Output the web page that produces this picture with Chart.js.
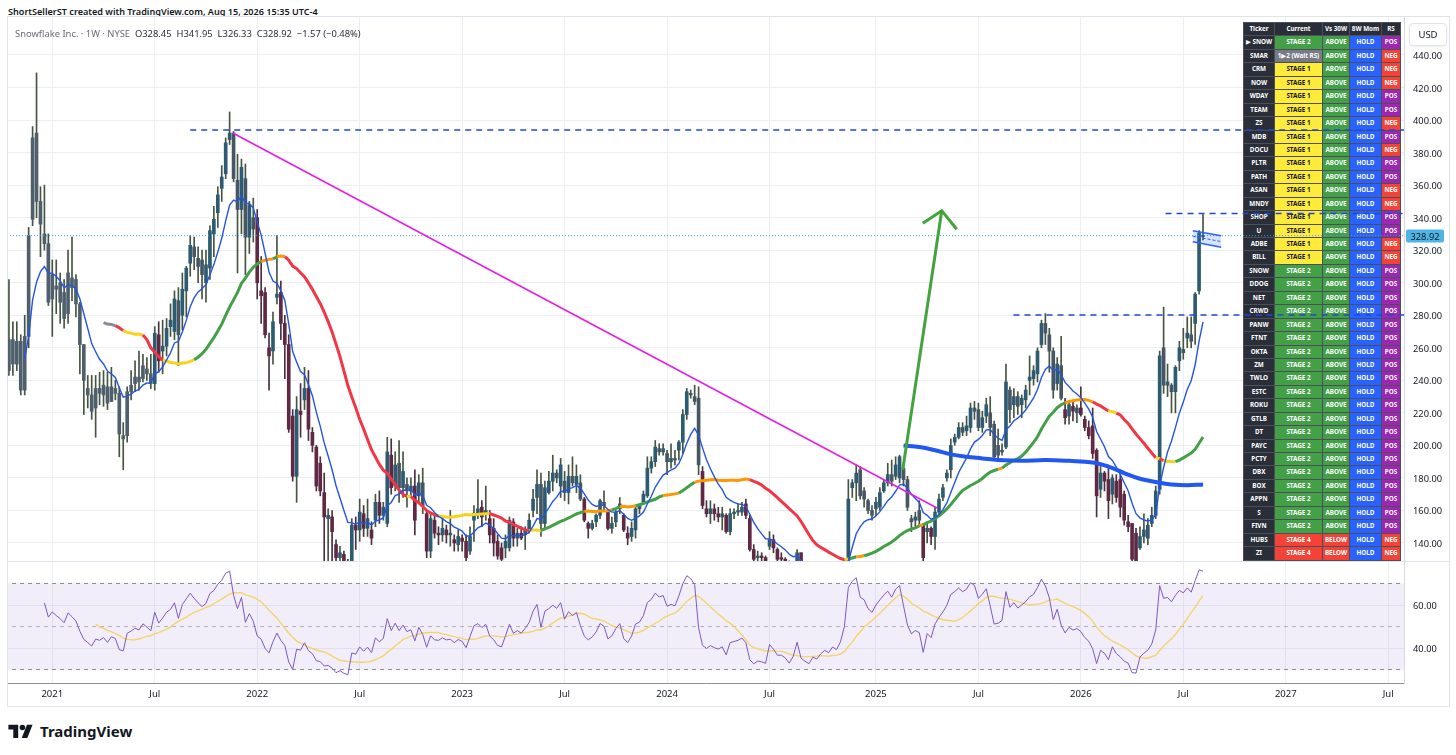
<!DOCTYPE html>
<html lang="en">
<head>
<meta charset="utf-8">
<title>Snowflake Inc. 1W</title>
<script src="https://cdn.jsdelivr.net/npm/chart.js@4.4.1/dist/chart.umd.min.js"></script>
<style>
  html, body { margin: 0; padding: 0; background: #fff; }
  body { width: 1456px; height: 755px; position: relative; overflow: hidden; font-family: "Noto Sans", "DejaVu Sans", sans-serif; color: #131722; }
  .abs { position: absolute; }
  #credit { left: 8px; top: 5px; font-size: 9.1px; font-weight: 600; white-space: nowrap; }
  #frame { left: 7px; top: 16px; width: 1441px; height: 689px; border: 1px solid #e0e3eb; }
  #legend { left: 15px; top: 27px; font-size: 9.4px; white-space: nowrap; color: #2a2e39; z-index: 3; }
  #legend .dim { color: #6a6d78; }
  #priceCanvas { left: 8px; top: 17px; z-index: 2; }
  #rsiCanvas { left: 8px; top: 561px; z-index: 2; }
  #sep { left: 8px; top: 561px; width: 1441px; height: 1px; background: #e0e3eb; z-index: 1; }
  .ylab { position: absolute; left: 1413px; font-size: 9.3px; transform: translateY(-50%); z-index: 3; white-space: nowrap; }
  #usd { left: 1409px; top: 23px; width: 36px; height: 21px; border: 1px solid #e0e3eb; border-radius: 4px; font-size: 9.5px; line-height: 21px; text-align: center; z-index: 3; background: #fff; box-shadow: 0 1px 2px rgba(0,0,0,0.08); }
  #lastTag { left: 1406px; width: 38px; height: 13px; line-height: 13px; font-size: 9.3px; text-align: center; background: #4cb5e6; color: #131722; z-index: 4; transform: translateY(-50%); border-radius: 2px; }
  #stageTable { left: 1243px; top: 22px; z-index: 1; display: grid; grid-template-columns: 30px 47px 26px 31px 18px; grid-auto-rows: 12.45px; gap: 1px; padding: 1px; background: #4b4f5a; }
  .cell { font-size: 6.3px; font-weight: 700; color: #fff; text-align: center; line-height: 12.45px; white-space: nowrap; overflow: hidden; }
  #logo { left: 8px; top: 721px; display: flex; align-items: center; gap: 6px; font-size: 15px; font-weight: 700; }
</style>
</head>
<body>
<div id="credit" class="abs">ShortSellerST created with TradingView.com, Aug 15, 2026 15:35 UTC-4</div>
<div id="frame" class="abs"></div>
<div id="legend" class="abs"><span class="dim">Snowflake Inc. · 1W · NYSE</span>&nbsp; O328.45&nbsp; H341.95&nbsp; L326.33&nbsp; C328.92&nbsp; −1.57 (−0.48%)</div>
<div id="stageTable" class="abs"></div>
<canvas id="priceCanvas" class="abs" width="1441" height="544"></canvas>
<div id="sep" class="abs"></div>
<canvas id="rsiCanvas" class="abs" width="1441" height="145"></canvas>
<div id="usd" class="abs">USD</div>
<div id="axisLabels"></div>
<div id="logo" class="abs">
  <svg width="26" height="14" viewBox="0 0 36 20"><path d="M14 20H7V8H0V1h14z" fill="#131722"/><circle cx="20" cy="5" r="4" fill="#131722"/><path d="M27 20h-8l7.5-19h8z" fill="#131722"/></svg>
  <span>TradingView</span>
</div>

<script>
// weekly bars, index 0 is the IPO week; week 0 on the axis = 4 Jan 2021
const firstWeek = -16;

const opens = [
  245,254,245,251,246,246,265,250,264,234,
  267,339,392,350,330,324,290,298,300,294,
  281,303,302,287,262,235,231,223,235,231,
  236,227,235,232,206,206,233,238,242,241,
  247,244,238,268,258,261,273,270,289,280,
  295,312,322,315,314,300,309,330,343,358,
  367,388,392,363,345,364,328,340,340,295,
  294,260,258,291,294,275,262,218,181,221,
  228,235,208,199,189,171,155,156,139,131,
  133,125,122,151,148,158,149,148,154,165,
  157,152,194,175,189,174,176,172,175,169,
  177,158,135,154,146,145,148,145,142,139,
  143,141,135,154,158,162,158,155,149,141,
  137,137,137,153,143,146,145,148,160,168,
  176,152,171,178,183,175,178,171,181,176,
  177,167,152,149,153,157,165,160,149,153,
  161,157,146,144,148,161,165,169,186,190,
  198,196,195,190,192,197,202,219,232,230,
  229,184,161,158,161,158,156,157,147,158,
  159,159,164,155,136,131,132,131,138,142,
  136,131,130,127,121,126,134,117,113,110,
  114,112,115,117,115,118,116,120,128,174,
  177,185,172,166,160,161,162,172,177,182,
  181,180,186,179,155,154,160,151,147,149,
  144,159,168,180,185,202,205,211,209,211,
  223,222,211,218,220,213,200,196,199,234,
  225,230,225,228,240,241,244,262,275,268,
  258,238,249,222,218,224,220,223,216,211,
  212,197,173,183,179,170,178,179,170,153,
  152,146,137,144,143,152,157,173,260,237,
  237,233,252,259,266,268,275,295,328.45
];
const highs = [
  319,265,258,257,262,302,276,276,268,280,
  334,396,429,359,360,330,314,314,306,302,
  320,328,305,288,262,243,243,243,245,246,
  245,248,240,236,214,236,246,252,258,256,
  254,256,273,276,277,278,287,295,297,306,
  310,329,328,322,320,320,335,347,359,372,
  389,405,393,379,376,373,350,352,345,316,
  297,269,282,329,301,280,268,222,230,238,
  248,246,211,200,193,183,161,160,142,138,
  135,130,155,156,167,163,167,153,170,172,
  165,205,204,196,203,196,180,180,185,182,
  186,160,158,157,150,157,151,160,145,148,
  145,145,150,163,179,166,175,160,155,145,
  140,145,156,155,149,150,150,158,173,185,
  183,178,184,194,185,192,184,188,193,188,
  182,168,153,154,158,167,172,160,156,160,
  168,158,150,153,162,164,172,193,193,203,
  201,201,197,201,197,203,222,235,234,237,
  236,187,166,166,164,162,162,158,161,161,
  164,165,167,157,139,135,134,132,147,145,
  137,134,131,129,127,136,134,119,115,117,
  116,118,121,120,121,122,124,130,179,179,
  188,187,174,167,163,168,174,179,189,191,
  193,194,187,181,157,159,166,152,153,150,
  162,170,176,185,204,207,214,214,218,226,
  227,226,221,229,230,215,210,201,250,236,
  235,233,231,237,255,249,260,277,281,272,
  260,254,267,229,227,227,225,236,218,215,
  223,198,187,184,186,182,182,182,172,157,
  152,149,150,158,155,162,175,258,285,250,
  238,249,264,272,279,279,294,332,341.95
];
const lows = [
  231,226,238,240,240,243,243,246,231,231,
  260,335,340,316,320,286,267,281,275,272,
  275,289,279,244,219,223,216,205,225,224,
  222,227,228,193,185,202,228,233,234,239,
  240,235,234,245,244,255,267,265,249,271,
  279,304,308,300,290,288,302,316,334,350,
  364,385,362,306,330,305,318,325,290,275,
  266,234,250,287,265,241,208,178,165,205,
  222,203,196,172,169,125,128,128,120,118,
  112,110,118,136,141,144,144,139,150,152,
  154,150,170,172,165,168,162,168,145,165,
  158,131,131,143,139,141,140,138,135,135,
  135,129,133,141,155,150,154,140,132,130,
  127,131,135,138,138,142,136,146,156,158,
  144,148,170,172,177,168,166,164,175,171,
  166,153,143,148,150,155,160,148,146,150,
  158,147,139,141,143,158,164,168,183,187,
  194,194,182,186,188,191,195,216,229,225,
  182,161,156,152,154,153,148,146,145,155,
  157,157,155,135,128,128,128,126,136,134,
  128,127,124,117,115,124,108,108,107,108,
  109,110,113,112,113,113,114,118,125,168,
  166,167,162,158,154,157,160,171,175,175,
  179,177,175,160,147,150,150,128,140,139,
  136,157,166,178,180,200,204,206,206,208,
  216,209,208,214,206,192,190,194,198,214,
  217,219,217,223,231,237,239,260,262,245,
  229,234,228,213,213,215,214,218,209,204,
  192,156,168,172,155,164,165,156,151,147,
  127,126,136,140,139,150,155,170,232,230,
  220,220,246,253,260,260,262,293,326.33
];
const closes = [
  254,245,251,246,258,265,250,264,234,267,
  329,389,350,336,324,288,305,296,288,278,
  306,297,287,262,240,231,221,235,232,237,
  226,236,232,207,204,233,237,242,239,249,
  244,238,269,252,261,272,277,290,268,296,
  309,323,316,310,305,311,332,339,354,365,
  386,392,364,345,371,328,348,333,300,292,
  268,255,276,293,275,262,210,181,222,219,
  235,210,200,175,172,156,157,147,131,134,
  125,120,151,148,159,149,155,143,165,157,
  162,196,174,188,174,184,172,175,154,177,
  163,135,155,146,145,149,145,146,140,144,
  141,131,144,158,161,156,160,145,140,132,
  130,141,154,143,146,143,148,154,167,176,
  152,174,178,183,180,188,171,181,177,181,
  167,154,149,152,157,166,163,149,152,159,
  164,148,143,149,161,163,170,186,190,199,
  196,198,190,192,191,202,219,233,231,227,
  188,163,158,161,158,156,158,147,158,159,
  160,162,157,136,130,132,131,129,142,137,
  130,130,127,121,125,134,117,113,110,114,
  112,115,117,115,118,116,120,129,167,177,
  183,169,167,160,157,165,171,177,182,178,
  188,193,179,162,153,156,154,131,149,144,
  159,167,174,183,200,205,211,208,212,223,
  221,211,217,225,211,193,194,197,239,222,
  230,224,229,234,242,246,258,275,269,258,
  234,250,229,217,225,221,223,219,211,206,
  195,169,183,178,166,180,168,162,154,150,
  130,129,144,148,151,157,172,255,237,239,
  233,248,260,257,269,264,293,330.49,328.92
];

// time axis (first weekly bar of each Jan / Jul)
const tickWeeks = [0, 26, 52, 78, 104, 130, 156, 182, 209, 235, 261, 287, 313, 339];
const tickLabels = ['2021', 'Jul', '2022', 'Jul', '2023', 'Jul', '2024', 'Jul', '2025', 'Jul', '2026', 'Jul', '2027', 'Jul'];
const priceTicks = [440, 420, 400, 380, 360, 340, 320, 300, 280, 260, 240, 220, 200, 180, 160, 140];
const rsiTicks = [60, 40];
const rsiLevels = [70, 50, 30];
const lastPrice = 328.92;
const neutralBefore = 26; // candles stay grey until the first base is in

// drawings
const levelValues = [393.9, 342.5, 280.2];
const levelStarts = [35, 282.5, 243.9];
const trendWeeks = [45.8, 224.5];
const trendValues = [392, 161.5];
const arrowWeeks = [215.8, 225.7];
const arrowValues = [185, 344.3];
const arrowHeadWeeks = [220.9, 225.7, 229.5];
const arrowHeadValues = [336.5, 344.3, 332.9];
const avwapWeeks = [216, 220, 224, 228, 232, 236, 240, 246, 252, 258, 264, 268, 272, 276, 280, 284, 288, 292];
const avwapValues = [200, 199, 197, 194.5, 193, 192, 191, 190.5, 191, 190.5, 189.5, 187, 183, 179.5, 177.5, 176, 175.5, 176];
const flagWeeks = [289.4, 296.6];
const flagUpper = [332, 328.9];
const flagMid = [328.6, 325.3];
const flagLower = [325.2, 321.8];

// stage table
const tickers = ['▶ SNOW','SMAR','CRM','NOW','WDAY','TEAM','ZS','MDB','DOCU','PLTR','PATH','ASAN','MNDY','SHOP','U','ADBE','BILL',
  'SNOW','DDOG','NET','CRWD','PANW','FTNT','OKTA','ZM','TWLO','ESTC','ROKU','GTLB','DT','PAYC','PCTY','DBX','BOX','APPN','S','FIVN','HUBS','ZI'];
const stages = ['STAGE 2','1▶2 (Wait RS)','STAGE 1','STAGE 1','STAGE 1','STAGE 1','STAGE 1','STAGE 1','STAGE 1','STAGE 1','STAGE 1','STAGE 1','STAGE 1','STAGE 1','STAGE 1','STAGE 1','STAGE 1',
  'STAGE 2','STAGE 2','STAGE 2','STAGE 2','STAGE 2','STAGE 2','STAGE 2','STAGE 2','STAGE 2','STAGE 2','STAGE 2','STAGE 2','STAGE 2','STAGE 2','STAGE 2','STAGE 2','STAGE 2','STAGE 2','STAGE 2','STAGE 2','STAGE 4','STAGE 4'];
const vs30 = ['ABOVE','ABOVE','ABOVE','ABOVE','ABOVE','ABOVE','ABOVE','ABOVE','ABOVE','ABOVE','ABOVE','ABOVE','ABOVE','ABOVE','ABOVE','ABOVE','ABOVE',
  'ABOVE','ABOVE','ABOVE','ABOVE','ABOVE','ABOVE','ABOVE','ABOVE','ABOVE','ABOVE','ABOVE','ABOVE','ABOVE','ABOVE','ABOVE','ABOVE','ABOVE','ABOVE','ABOVE','ABOVE','BELOW','BELOW'];
const momentum = tickers.map(() => 'HOLD');
const rsFlags = ['POS','NEG','NEG','NEG','POS','POS','NEG','POS','NEG','POS','POS','NEG','NEG','POS','POS','NEG','NEG',
  'POS','POS','POS','POS','POS','POS','POS','POS','POS','POS','POS','POS','POS','POS','POS','POS','POS','POS','POS','POS','NEG','NEG'];

const xMin = -11.24, xMax = 343;
const gridColor = '#ebeff5';
const weeks = closes.map((_, i) => firstWeek + i);

// ---- indicators from the candles
function smaOf(src, n) {
  return src.map((_, i) => {
    if (i < n - 1) return null;
    let s = 0;
    for (let k = i - n + 1; k <= i; k++) { if (src[k] == null) return null; s += src[k]; }
    return s / n;
  });
}
function emaOf(src, n) {
  const a = 2 / (n + 1); let prev = null;
  return src.map((v, i) => {
    if (i < n - 1) return null;
    if (prev === null) { let s = 0; for (let k = i - n + 1; k <= i; k++) s += src[k]; prev = s / n; }
    else prev = a * v + (1 - a) * prev;
    return prev;
  });
}
function rsiOf(src, n) {
  const out = [null]; let ag = 0, al = 0;
  for (let i = 1; i < src.length; i++) {
    const d = src[i] - src[i - 1], g = Math.max(d, 0), l = Math.max(-d, 0);
    if (i <= n) { ag += g / n; al += l / n; out.push(i === n ? 100 - 100 / (1 + ag / al) : null); }
    else { ag = (ag * (n - 1) + g) / n; al = (al * (n - 1) + l) / n; out.push(al === 0 ? 100 : 100 - 100 / (1 + ag / al)); }
  }
  return out;
}
const toPts = arr => arr.map((v, i) => v == null ? null : { x: weeks[i], y: v }).filter(p => p);

const ema10 = emaOf(closes, 10);
const sma30 = smaOf(closes, 30);
const rsi = rsiOf(closes, 14);
const rsiMa = smaOf(rsi, 14);

const smaPts = toPts(sma30);
let trend = 0;
const smaCols = smaPts.map((p, i) => {
  if (i === 0) return '#888c96';
  const rel = (p.y - smaPts[i - 1].y) / smaPts[i - 1].y;
  if (rel > 0.004) { trend = 1; return '#43a047'; }
  if (rel < -0.004) { trend = -1; return '#f23645'; }
  return trend < 0 ? '#f7d21e' : trend > 0 ? '#ff9800' : '#888c96';
});

// candle colours: teal up, maroon when falling below the 30W line, slate otherwise
const bodyCols = closes.map((c, i) => {
  if (weeks[i] < neutralBefore) return '#4f606c';
  if (c >= opens[i]) return '#2d5b71';
  return sma30[i] != null && c < sma30[i] ? '#5f2944' : '#465663';
});
const wickCols = bodyCols.map(c => c === '#5f2944' ? '#4a3040' : '#46553f');

// ---- stage table
const cellColors = {
  'STAGE 2': ['#43a047', '#fff'], 'STAGE 1': ['#ffeb3b', '#131722'], 'STAGE 4': ['#f44336', '#fff'], '1▶2 (Wait RS)': ['#787b86', '#fff'],
  'ABOVE': ['#43a047', '#fff'], 'BELOW': ['#f44336', '#fff'], 'HOLD': ['#2962ff', '#fff'], 'POS': ['#9c27b0', '#fff'], 'NEG': ['#f44336', '#fff']
};
const table = document.getElementById('stageTable');
function addCell(text, bg, fg) {
  const c = document.createElement('div');
  c.className = 'cell'; c.textContent = text; c.style.background = bg; c.style.color = fg;
  table.appendChild(c);
}
['Ticker', 'Current', 'Vs 30W', '8W Mom', 'RS'].forEach(h => addCell(h, '#2a2e39', '#fff'));
tickers.forEach((t, i) => {
  addCell(t, '#2a2e39', '#fff');
  [stages[i], vs30[i], momentum[i], rsFlags[i]].forEach(v => addCell(v, cellColors[v][0], cellColors[v][1]));
});

// ---- price pane
const tableHole = {
  id: 'tableHole',
  beforeDatasetsDraw(chart) {
    const r = table.getBoundingClientRect();
    const c = chart.canvas.getBoundingClientRect();
    chart.ctx.clearRect(r.left - c.left, r.top - c.top, r.width, r.height);
  }
};
const line = (data, color, width, extra) => Object.assign({ type: 'line', data, borderColor: color, borderWidth: width, pointRadius: 0, fill: false, order: 2 }, extra || {});
const pair = (xs, ys) => xs.map((x, i) => ({ x, y: ys[i] }));

const datasets = [
  line(pair(flagWeeks, flagUpper), '#2962ff', 1.5, { order: 1 }),
  line(pair(flagWeeks, flagLower), '#2962ff', 1.5, { order: 1, fill: '-1', backgroundColor: 'rgba(41,98,255,0.18)' }),
  line(pair(flagWeeks, flagMid), '#2962ff', 1, { order: 1, borderDash: [3, 2] }),
  line(pair(arrowWeeks, arrowValues), '#43a43f', 3, { order: 1 }),
  line(pair(arrowHeadWeeks, arrowHeadValues), '#43a43f', 3, { order: 1 }),
  line(pair(trendWeeks, trendValues), '#e41fe4', 1.6, { order: 2 }),
  line(pair(avwapWeeks, avwapValues), '#2157f3', 4, { order: 2, tension: 0.4 }),
  line(toPts(ema10), '#2455e0', 1.4, { order: 3 }),
  line(smaPts, '#43a047', 3, { order: 4, segment: { borderColor: ctx => smaCols[ctx.p1DataIndex] } }),
  line([{ x: xMin - 1, y: lastPrice }, { x: xMax + 1, y: lastPrice }], '#3aa0d8', 1, { order: 3, borderDash: [1, 2] })
];
levelValues.forEach((v, i) => datasets.push(line([{ x: levelStarts[i], y: v }, { x: xMax + 1, y: v }], '#1f48d6', 1.5, { order: 2, borderDash: [6, 5] })));
datasets.push({
  type: 'bar', order: 6, grouped: false, barThickness: 3, minBarLength: 1, borderWidth: 0,
  data: weeks.map((w, i) => ({ x: w, y: [opens[i], closes[i]] })),
  backgroundColor: bodyCols
});
datasets.push({
  type: 'bar', order: 7, grouped: false, barThickness: 1, borderWidth: 0,
  data: weeks.map((w, i) => ({ x: w, y: [lows[i], highs[i]] })),
  backgroundColor: wickCols
});

const priceChart = new Chart(document.getElementById('priceCanvas'), {
  type: 'bar',
  data: { datasets },
  options: {
    responsive: false, animation: false,
    layout: { padding: 0 },
    plugins: { legend: { display: false }, tooltip: { enabled: false } },
    scales: {
      x: {
        type: 'linear', min: xMin, max: xMax, offset: false,
        grid: { color: gridColor, offset: false, drawTicks: false },
        border: { display: false },
        ticks: { display: false },
        afterBuildTicks: s => { s.ticks = tickWeeks.map(v => ({ value: v })); },
        afterFit: s => { s.height = 0; }
      },
      y: {
        position: 'right', min: 128.93, max: 463.36,
        grid: { color: gridColor, drawTicks: false },
        border: { display: true, color: '#d6d9e0' },
        ticks: { display: false },
        afterBuildTicks: s => { s.ticks = priceTicks.map(v => ({ value: v })); },
        afterFit: s => { s.width = 45; }
      }
    }
  },
  plugins: [tableHole]
});

// ---- RSI pane
const flat = v => [{ x: xMin - 1, y: v }, { x: xMax + 1, y: v }];
const rsiChart = new Chart(document.getElementById('rsiCanvas'), {
  type: 'line',
  data: {
    datasets: [
      { data: toPts(rsi), borderColor: '#7e57c2', borderWidth: 1, pointRadius: 0, order: 1 },
      { data: toPts(rsiMa), borderColor: '#f6d36c', borderWidth: 1.4, pointRadius: 0, order: 2 },
      { data: flat(rsiLevels[0]), borderColor: '#8a8d96', borderWidth: 1, borderDash: [4, 4], pointRadius: 0, order: 3 },
      { data: flat(rsiLevels[2]), borderColor: '#8a8d96', borderWidth: 1, borderDash: [4, 4], pointRadius: 0, order: 4, fill: '-1', backgroundColor: 'rgba(126,87,194,0.1)' },
      { data: flat(rsiLevels[1]), borderColor: 'rgba(120,123,134,0.5)', borderWidth: 1, borderDash: [4, 4], pointRadius: 0, order: 3 }
    ]
  },
  options: {
    responsive: false, animation: false,
    layout: { padding: 0 },
    plugins: { legend: { display: false }, tooltip: { enabled: false } },
    scales: {
      x: {
        type: 'linear', min: xMin, max: xMax,
        grid: { color: gridColor, drawTicks: false },
        border: { display: true, color: '#8d9099' },
        ticks: { autoSkip: false, maxRotation: 0, padding: 6, color: '#131722', font: { family: 'Noto Sans', size: 9.5 }, callback: (v, i) => tickLabels[i] },
        afterBuildTicks: s => { s.ticks = tickWeeks.map(v => ({ value: v })); },
        afterFit: s => { s.height = 23; }
      },
      y: {
        position: 'right', min: 23.72, max: 80.47,
        grid: { color: gridColor, drawTicks: false },
        border: { display: true, color: '#d6d9e0' },
        ticks: { display: false },
        afterBuildTicks: s => { s.ticks = rsiTicks.map(v => ({ value: v })); },
        afterFit: s => { s.width = 45; }
      }
    }
  }
});

// ---- axis labels as page text
const axisLayer = document.getElementById('axisLabels');
function axisLabel(text, top) {
  const d = document.createElement('div');
  d.className = 'ylab'; d.textContent = text; d.style.top = top + 'px';
  axisLayer.appendChild(d);
  return d;
}
const priceTop = 17, rsiTop = 561;
priceTicks.forEach(v => axisLabel(v.toFixed(2), priceTop + priceChart.scales.y.getPixelForValue(v)));
rsiTicks.forEach(v => axisLabel(v.toFixed(2), rsiTop + rsiChart.scales.y.getPixelForValue(v)));
const tag = axisLabel(lastPrice.toFixed(2), priceTop + priceChart.scales.y.getPixelForValue(lastPrice));
tag.id = 'lastTag'; tag.className = 'abs';
</script>
</body>
</html>
